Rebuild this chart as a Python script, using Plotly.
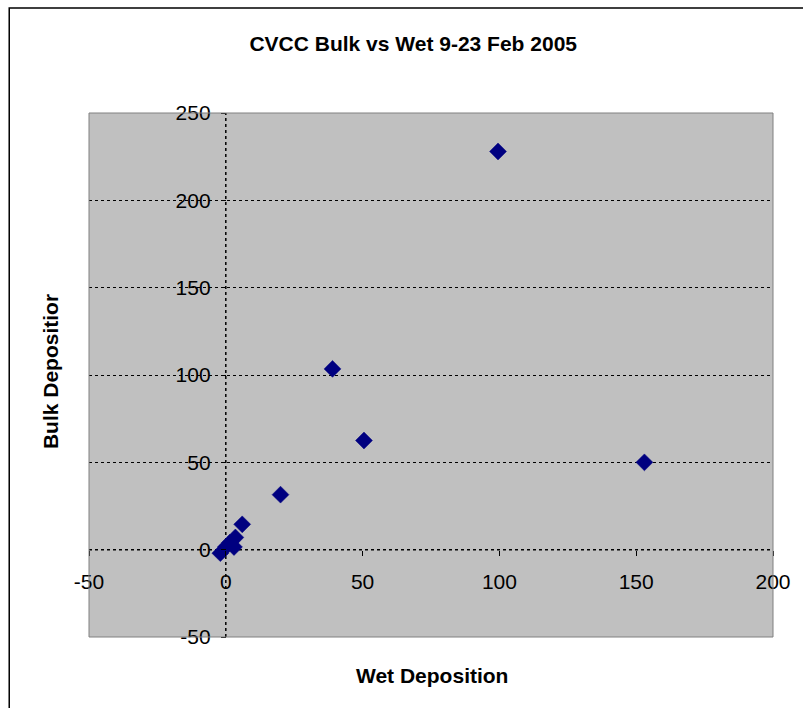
import plotly.graph_objects as go

# Data
wet_deposition = [-2.0, 0.0, 1.5, 3.5, 3.0, 6.0, 20.0, 39.0, 50.5, 99.5, 153.0]
bulk_deposition = [-2.0, 1.5, 4.0, 7.0, 1.5, 14.5, 31.5, 103.5, 62.5, 228.0, 50.0]

x_range = [-50, 200]
y_range = [-50, 250]
x_ticks = [-50, 0, 50, 100, 150, 200]
x_tick_labels = ["-50", "0", "50", "100", "150", "200"]
y_ticks = [-50, 0, 50, 100, 150, 200, 250]
y_tick_labels = ["-50", "0", "50", "100", "150", "200", "250"]

title_text = "CVCC Bulk vs Wet 9-23 Feb 2005"
x_title = "Wet Deposition"
y_title = "Bulk Depositior"

FONT = "Liberation Sans, Arial, sans-serif"
FS = 21

fig = go.Figure()
fig.add_trace(go.Scatter(
    x=wet_deposition, y=bulk_deposition, mode="markers",
    marker=dict(symbol="diamond", size=13, color="#000080",
                line=dict(color="#000080", width=0.5)),
    showlegend=False, hoverinfo="x+y",
))

# axes cross at zero
x_cross = (0 - y_range[0]) / (y_range[1] - y_range[0])
y_cross = (0 - x_range[0]) / (x_range[1] - x_range[0])

fig.update_layout(
    width=803, height=708,
    margin=dict(l=89, r=28, t=113, b=71),
    paper_bgcolor="white", plot_bgcolor="#C0C0C0",
    font=dict(family=FONT, size=FS, color="black"),
    title=dict(text="<b>%s</b>" % title_text, x=0.474, xref="paper",
               xanchor="center", y=1 - 44 / 708, yref="container",
               yanchor="middle", font=dict(family=FONT, size=FS, color="black")),
    xaxis=dict(range=x_range, tickvals=x_ticks, ticktext=x_tick_labels,
               showgrid=False, zeroline=False,
               showline=False, anchor="free", position=x_cross,
               ticks="outside", ticklen=5, tickwidth=1, tickcolor="black",
               ticklabelstandoff=8, tickfont=dict(size=FS)),
    yaxis=dict(range=y_range, tickvals=y_ticks, ticktext=y_tick_labels,
               showgrid=True, gridcolor="black",
               griddash="dot", gridwidth=1, zeroline=False, showline=False,
               anchor="free", position=y_cross,
               ticks="outside", ticklen=5, tickwidth=1, tickcolor="black",
               ticklabelstandoff=6, tickfont=dict(size=FS)),
    annotations=[
        dict(text="<b>%s</b>" % x_title, xref="paper", yref="paper",
             x=0.5015, y=-0.0744, showarrow=False, xanchor="center",
             yanchor="middle", font=dict(family=FONT, size=FS)),
        dict(text="<b>%s</b>" % y_title, xref="paper", yref="paper",
             x=-0.0569, y=0.5057, showarrow=False, textangle=-90,
             xanchor="center", yanchor="middle", font=dict(family=FONT, size=FS)),
    ],
    shapes=[
        # axis lines through zero
        dict(type="line", xref="x", yref="y", x0=x_range[0], x1=x_range[1], y0=0, y1=0,
             line=dict(color="black", width=1.5, dash="dot"), layer="below"),
        dict(type="line", xref="x", yref="y", x0=0, x1=0, y0=y_range[0], y1=y_range[1],
             line=dict(color="black", width=1.5, dash="dot"), layer="below"),
        # plot-area border
        dict(type="rect", xref="paper", yref="paper", x0=0, x1=1, y0=0, y1=1,
             line=dict(color="#808080", width=1)),
        # chart-area border
        dict(type="rect", xref="paper", yref="paper",
             x0=(9 - 89) / 686, x1=(830 - 89) / 686,
             y0=(637 - 740) / 524, y1=(637 - 8) / 524,
             line=dict(color="black", width=1.5)),
    ],
)

fig.write_html("out.html")
